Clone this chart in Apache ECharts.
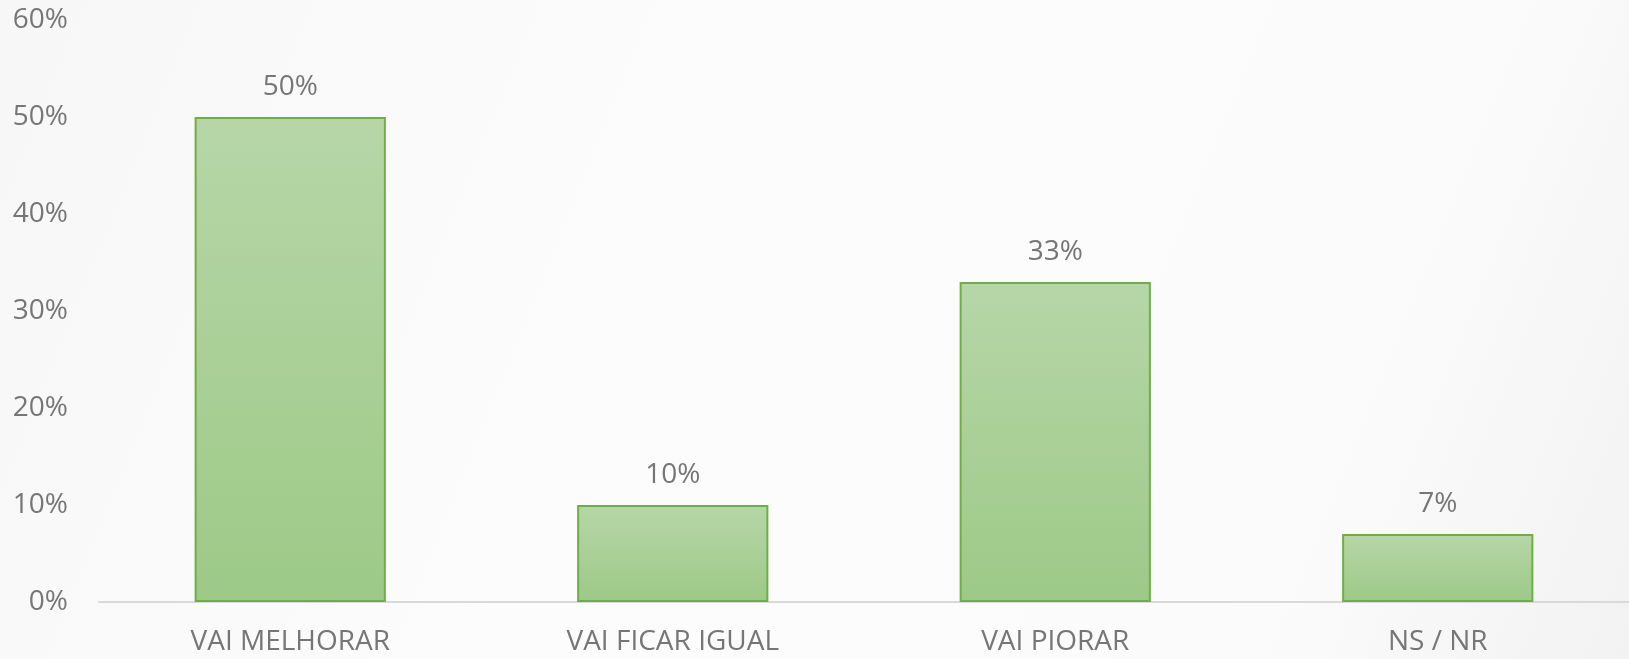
<!DOCTYPE html>
<html>
<head>
    <meta charset="utf-8">
    <title>Expectativa</title>
    <script src="https://cdn.jsdelivr.net/npm/echarts@6/dist/echarts.min.js"></script>
</head>
<body style="margin:0;background-color:#fafafb;">
    <div id="main" style="width:1629px;height:659px;"></div>
    <script type="text/javascript">
        // categorias e valores (%)
        var categorias = ['VAI MELHORAR', 'VAI FICAR IGUAL', 'VAI PIORAR', 'NS / NR'];
        var valores = [50, 10, 33, 7];
        var ticksY = [0, 10, 20, 30, 40, 50, 60];

        var myChart = echarts.init(document.getElementById('main'));

        var fonte = '"Open Sans", "DejaVu Sans", sans-serif';
        var cinza = '#767676';

        var option = {
            backgroundColor: {
                type: 'linear', x: 0, y: 0, x2: 1, y2: 1,
                colorStops: [
                    { offset: 0, color: '#f7f7f8' },
                    { offset: 0.4, color: '#fcfcfd' },
                    { offset: 0.8, color: '#fbfbfc' },
                    { offset: 1, color: '#f2f2f3' }
                ]
            },
            grid: {
                left: 99,
                right: 0,
                top: 20,
                bottom: 57
            },
            xAxis: {
                type: 'category',
                data: categorias,
                axisLine: { lineStyle: { color: '#d9d9d9', width: 2 } },
                axisTick: { show: false },
                axisLabel: {
                    color: cinza,
                    fontFamily: fonte,
                    fontSize: 28,
                    margin: 26
                }
            },
            yAxis: {
                type: 'value',
                min: ticksY[0],
                max: ticksY[ticksY.length - 1],
                interval: 10,
                splitLine: { show: false },
                axisLine: { show: false },
                axisTick: { show: false },
                axisLabel: {
                    color: cinza,
                    fontFamily: fonte,
                    fontSize: 28,
                    margin: 31,
                    formatter: '{value}%'
                }
            },
            series: [
                {
                    type: 'bar',
                    data: valores,
                    barCategoryGap: '50%',
                    itemStyle: {
                        color: {
                            type: 'linear', x: 0, y: 0, x2: 0, y2: 1,
                            colorStops: [
                                { offset: 0, color: '#b6d6a7' },
                                { offset: 1, color: '#9dc987' }
                            ]
                        },
                        borderColor: '#70ad47',
                        borderWidth: 2
                    },
                    label: {
                        show: true,
                        position: 'top',
                        distance: 16,
                        color: cinza,
                        fontFamily: fonte,
                        fontSize: 28,
                        formatter: '{c}%'
                    }
                }
            ]
        };
        myChart.setOption(option);
    </script>
</body>
</html>
